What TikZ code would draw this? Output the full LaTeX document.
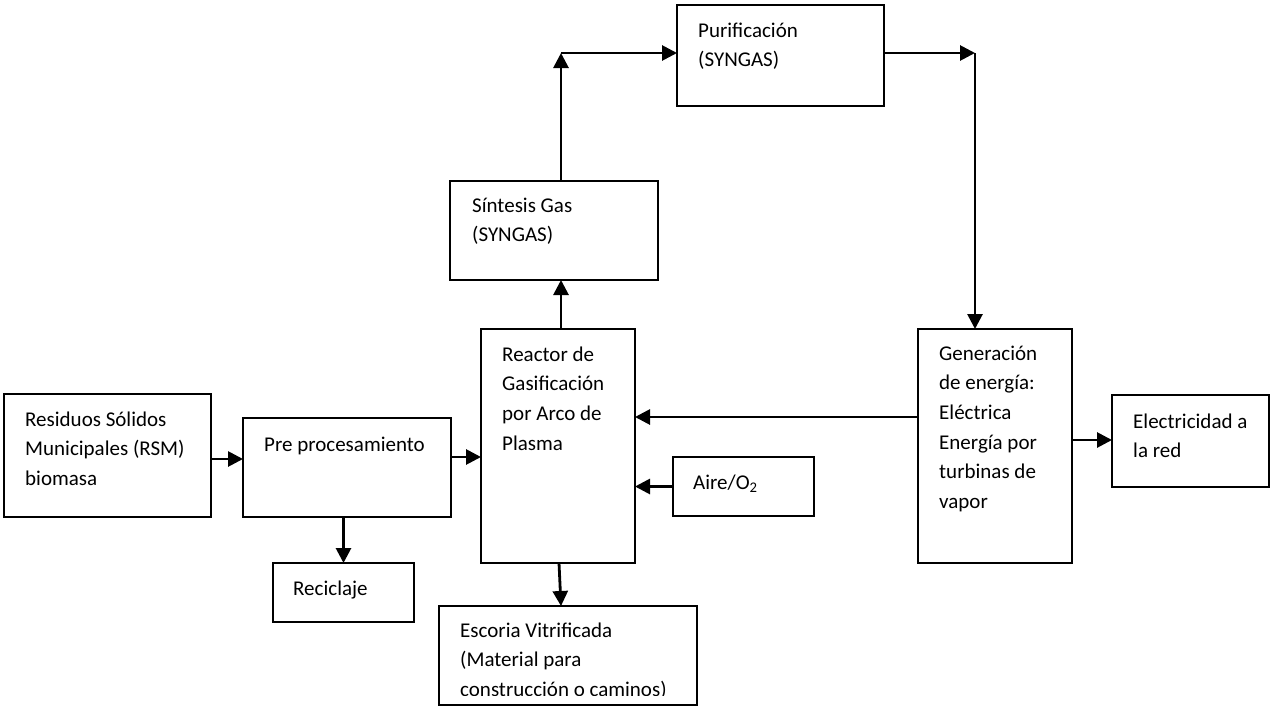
\documentclass[tikz,border=0pt]{standalone}
\usepackage{fontspec}
\setmainfont{Carlito}
\usetikzlibrary{arrows.meta,fit}
% fixed-height first line, so every label starts 25pt above its first baseline
\newcommand\firstline{\rule{0pt}{25pt}}
\begin{document}
\begin{tikzpicture}[x=1pt,y=-1pt,
  box/.style={draw, line width=1.8pt, inner sep=0pt, outer sep=0pt, rectangle},
  txt/.style={anchor=north west, align=left, inner sep=0pt,
    font=\fontsize{21}{29.6}\selectfont},
  arr/.style={line width=2.8pt, -{Triangle[length=15pt,width=15pt]}}]
\useasboundingbox (0,0) rectangle (1271,707);

% process blocks
\node[box, fit={(4,394)(211,517)}]    (rsm)   {};
\node[box, fit={(243,418)(451,517)}]  (pre)   {};
\node[box, fit={(273,563)(414,622)}]  (rec)   {};
\node[box, fit={(481,329)(635,563)}]  (reac)  {};
\node[box, fit={(673,457)(814,516)}]  (aire)  {};
\node[box, fit={(439,606)(697,705)}]  (esc)   {};
\node[box, fit={(450,181)(658,280)}]  (sint)  {};
\node[box, fit={(677,5)(884,106)}]    (purif) {};
\node[box, fit={(918,329)(1072,563)}] (gen)   {};
\node[box, fit={(1112,395)(1269,487)}] (elec) {};

% block labels (first baseline about 32pt below the top edge)
\node[txt] (rsm-t)   at ([xshift=21pt,yshift=-7pt]rsm.north west)   {\firstline Residuos Sólidos\\Municipales (RSM)\\biomasa};
\node[txt] (pre-t)   at ([xshift=21pt,yshift=-8pt]pre.north west)   {\firstline Pre procesamiento};
\node[txt] (rec-t)   at ([xshift=20pt,yshift=-7pt]rec.north west)   {\firstline Reciclaje};
\node[txt] (reac-t)  at ([xshift=21pt,yshift=-7pt]reac.north west)  {\firstline Reactor de\\Gasificación\\por Arco de\\Plasma};
\node[txt] (aire-t)  at ([xshift=20pt,yshift=-7pt]aire.north west)  {\firstline Aire/O\textsubscript{2}};
\node[txt] (sint-t)  at ([xshift=22pt,yshift=-6pt]sint.north west)  {\firstline Síntesis Gas\\(SYNGAS)};
\node[txt] (purif-t) at ([xshift=21pt,yshift=-7pt]purif.north west) {\firstline Purificación\\(SYNGAS)};
\node[txt] (gen-t)   at ([xshift=21pt,yshift=-6pt]gen.north west)   {\firstline Generación\\de energía:\\Eléctrica\\Energía por\\turbinas de\\vapor};
\node[txt] (elec-t)  at ([xshift=21pt,yshift=-8pt]elec.north west)  {\firstline Electricidad a\\la red};
\begin{scope}
  \clip (esc.north west) rectangle ([yshift=10pt]esc.south east);
  \node[txt] (esc-t) at ([xshift=21pt,yshift=-6pt]esc.north west) {\firstline Escoria Vitrificada\\(Material para\\construcción o caminos)};
\end{scope}

% bends of the gas line
\coordinate (up) at (561,53);
\coordinate (dn) at (975,53);

% flows
\draw[arr] ([yshift=-3.5pt]rsm.east) coordinate (a1) -- (pre.west |- a1);
\draw[arr] ([yshift=10.5pt]pre.east) coordinate (a2) -- (reac.west |- a2);
\draw[arr] (pre.south -| rec.north) -- (rec.north);
\draw[arr] ([xshift=1pt]reac.south) -- ([xshift=-7pt]esc.north);
\draw[arr] (reac.north -| up) -- (sint.south -| up);
\draw[arr] (sint.north -| up) -- (up);
\draw[arr] (up) -- (purif.west |- up);
\draw[arr] (purif.east |- dn) -- (dn);
\draw[arr] (dn) -- (gen.north -| dn);
\draw[arr] ([yshift=29pt]gen.west) coordinate (a3) -- (reac.east |- a3);
\draw[arr] (aire.west) -- (reac.east |- aire.west);
\draw[arr] ([yshift=6pt]gen.east) coordinate (a4) -- (elec.west |- a4);
\end{tikzpicture}
\end{document}
